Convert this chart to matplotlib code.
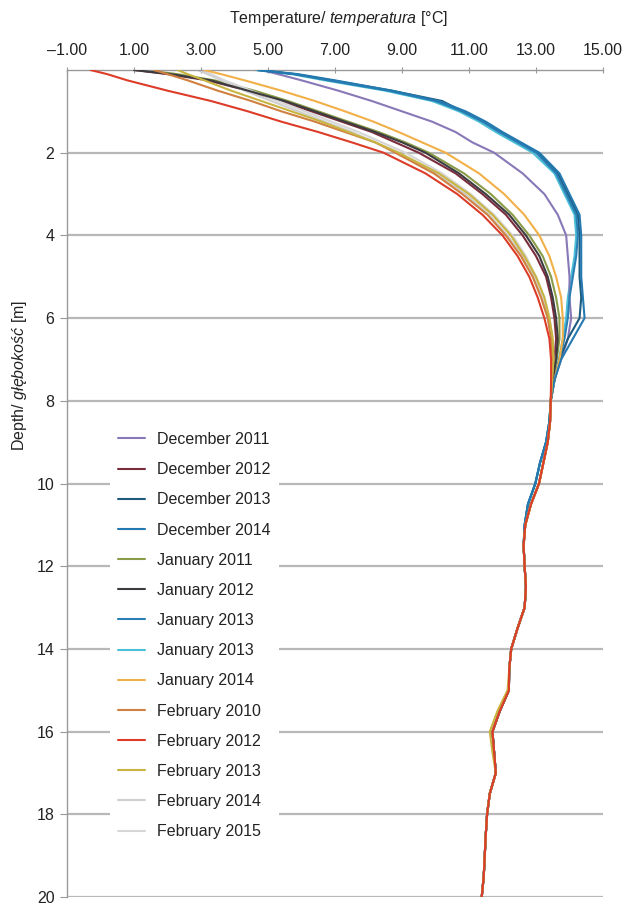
import numpy as np
import matplotlib
matplotlib.use('Agg')
import matplotlib.pyplot as plt

plt.rcParams['font.family'] = ['Liberation Sans', 'DejaVu Sans']
plt.rcParams['mathtext.fontset'] = 'custom'
plt.rcParams['mathtext.rm'] = 'Liberation Sans'
plt.rcParams['mathtext.it'] = 'Liberation Sans:italic'

# depth levels of the profiles [m]
depth_top = [0.0, 0.1, 0.25, 0.5, 0.75, 1.0, 1.25, 1.5, 1.75, 2.0, 2.5, 3.0,
             3.5, 4.0, 4.5, 5.0, 5.5, 6.0, 6.5, 7.0, 7.5]
depth_deep = [8.0, 8.5, 9.0, 9.5, 10.0, 10.5, 11.0, 11.5, 12.0, 12.5, 13.0,
              13.5, 14.0, 14.5, 15.0, 15.5, 16.0, 16.5, 17.0, 17.5, 18.0,
              18.5, 19.0, 19.5, 20.0]

# below ~8 m all profiles practically coincide
t_deep = [13.44, 13.42, 13.35, 13.22, 13.09, 12.85, 12.68, 12.63, 12.66,
          12.70, 12.66, 12.45, 12.26, 12.20, 12.19, 11.92, 11.70, 11.75,
          11.80, 11.62, 11.54, 11.50, 11.47, 11.44, 11.38]
t_deep_blue = [13.44, 13.40, 13.30, 13.12, 12.98, 12.76, 12.66, 12.63, 12.66,
               12.70, 12.66, 12.45, 12.26, 12.20, 12.19, 11.92, 11.70, 11.75,
               11.80, 11.62, 11.54, 11.50, 11.47, 11.44, 11.38]
t_deep_olive = [13.44, 13.42, 13.35, 13.22, 13.09, 12.85, 12.68, 12.63, 12.66,
                12.70, 12.66, 12.45, 12.26, 12.20, 12.15, 11.85, 11.62, 11.70,
                11.80, 11.62, 11.54, 11.50, 11.47, 11.44, 11.38]

# upper part of each profile [°C]
dec_2011 = [4.8, 5.3, 6.0, 7.1, 8.1, 9.0, 9.9, 10.6, 11.1, 11.75, 12.6, 13.25,
            13.65, 13.9, 13.95, 14.0, 14.0, 14.05, 13.95, 13.75, 13.55]
dec_2012 = [1.0, 2.0, 3.2, 4.4, 5.4, 6.3, 7.2, 8.1, 8.8, 9.5, 10.6, 11.4,
            12.1, 12.6, 13.0, 13.3, 13.45, 13.55, 13.6, 13.55, 13.48]
dec_2013 = [4.7, 5.8, 6.9, 8.7, 10.2, 10.8, 11.45, 11.95, 12.5, 13.05, 13.65,
            13.95, 14.25, 14.3, 14.3, 14.3, 14.35, 14.3, 13.95, 13.7, 13.55]
dec_2014 = [4.7, 5.9, 7.0, 8.7, 10.1, 10.9, 11.5, 12.0, 12.55, 13.1, 13.7,
            14.0, 14.3, 14.35, 14.35, 14.35, 14.4, 14.45, 14.1, 13.75, 13.55]
jan_2011 = [1.3, 2.3, 3.4, 4.6, 5.6, 6.5, 7.4, 8.3, 9.1, 9.8, 10.85, 11.65,
            12.3, 12.8, 13.2, 13.45, 13.6, 13.7, 13.7, 13.62, 13.5]
jan_2012 = [1.0, 2.1, 3.3, 4.4, 5.5, 6.4, 7.3, 8.2, 9.0, 9.7, 10.7, 11.5,
            12.2, 12.7, 13.1, 13.35, 13.5, 13.6, 13.65, 13.6, 13.5]
jan_2013a = [4.7, 5.8, 6.8, 8.6, 10.0, 10.8, 11.4, 11.9, 12.45, 13.0, 13.6,
             13.9, 14.2, 14.25, 14.2, 14.1, 14.0, 13.95, 13.85, 13.7, 13.55]
jan_2013b = [4.6, 5.7, 6.7, 8.5, 9.9, 10.7, 11.3, 11.8, 12.35, 12.9, 13.55,
             13.85, 14.15, 14.2, 14.15, 14.05, 13.95, 13.9, 13.8, 13.68, 13.55]
jan_2014 = [3.1, 3.6, 4.3, 5.4, 6.4, 7.3, 8.15, 8.9, 9.6, 10.3, 11.3, 12.05,
            12.65, 13.1, 13.4, 13.6, 13.75, 13.8, 13.8, 13.7, 13.55]
feb_2010 = [1.6, 2.0, 2.6, 3.5, 4.5, 5.4, 6.4, 7.3, 8.2, 8.8, 9.95, 10.8,
            11.55, 12.1, 12.55, 12.9, 13.15, 13.35, 13.45, 13.5, 13.48]
feb_2012 = [-0.3, 0.2, 0.8, 2.0, 3.3, 4.4, 5.4, 6.5, 7.5, 8.45, 9.7, 10.65,
            11.4, 12.0, 12.45, 12.8, 13.05, 13.25, 13.4, 13.45, 13.45]
feb_2013 = [2.3, 2.6, 3.1, 3.9, 4.8, 5.7, 6.6, 7.4, 8.2, 8.9, 10.1, 11.0,
            11.7, 12.25, 12.65, 13.0, 13.25, 13.4, 13.5, 13.52, 13.48]
feb_2014 = [2.9, 3.2, 3.6, 4.3, 5.1, 5.9, 6.7, 7.5, 8.2, 8.9, 10.0, 10.9,
            11.6, 12.15, 12.6, 12.95, 13.2, 13.38, 13.48, 13.5, 13.48]
feb_2015 = [3.0, 3.3, 3.7, 4.5, 5.3, 6.1, 6.9, 7.7, 8.4, 9.1, 10.2, 11.05,
            11.75, 12.3, 12.7, 13.0, 13.25, 13.4, 13.5, 13.52, 13.48]

labels = ['December 2011', 'December 2012', 'December 2013', 'December 2014',
          'January 2011', 'January 2012', 'January 2013', 'January 2013',
          'January 2014', 'February 2010', 'February 2012', 'February 2013',
          'February 2014', 'February 2015']
profiles = [dec_2011, dec_2012, dec_2013, dec_2014, jan_2011, jan_2012,
            jan_2013a, jan_2013b, jan_2014, feb_2010, feb_2012, feb_2013,
            feb_2014, feb_2015]
deeps = [t_deep, t_deep, t_deep_blue, t_deep_blue, t_deep, t_deep,
         t_deep_blue, t_deep_blue, t_deep, t_deep, t_deep, t_deep_olive,
         t_deep, t_deep]
colors = ['#8878b8', '#7a2c3c', '#1d5c7e', '#2479b0', '#8a9c48', '#3c3c40',
          '#2a7fb4', '#4cc0d8', '#f2b048', '#d08040', '#dc3c28', '#c8b440',
          '#cfcfcf', '#d6d6d6']
zorders = [3, 2, 3, 4, 2, 3, 3, 2, 3, 4, 6, 5, 2, 2]

fig = plt.figure(figsize=(6.3, 9.06), dpi=100)
ax = fig.add_axes([67 / 630, 9 / 906, 536 / 630, 827 / 906])

depth = depth_top + depth_deep
for lab, top, deep, col, z in zip(labels, profiles, deeps, colors, zorders):
    ax.plot(top + deep, depth, color=col, lw=1.5, label=lab, zorder=z,
            solid_capstyle='round', solid_joinstyle='round')

ax.set_xlim(-1, 15)
ax.set_ylim(20, 0)
ax.xaxis.tick_top()
ax.set_xticks(np.arange(-1, 16, 2))
ax.set_xticklabels(['\u20131.00', '1.00', '3.00', '5.00', '7.00', '9.00',
                    '11.00', '13.00', '15.00'])
ax.set_yticks(np.arange(2, 21, 2))
ax.set_yticklabels([str(v) for v in range(2, 21, 2)])
ax.tick_params(axis='x', direction='inout', length=5, width=0.8,
               color='#999999', labelsize=11.5, pad=6, labelcolor='#222222')
ax.tick_params(axis='y', direction='out', length=5, width=0.8,
               color='#999999', labelsize=11.5, pad=4, labelcolor='#222222')
ax.grid(axis='y', color='#b8b8b8', lw=1.6, zorder=0)
ax.set_axisbelow(True)
for side in ['right', 'bottom']:
    ax.spines[side].set_visible(False)
for side in ['top', 'left']:
    ax.spines[side].set_color('#9a9a9a')
    ax.spines[side].set_linewidth(1.0)

fig.text(338 / 630, 1 - 19 / 906, 'Temperature/ $\\mathit{temperatura}$ [°C]',
         ha='center', va='center', fontsize=11.5, color='#222222')
fig.text(20 / 630, 1 - 375 / 906, 'Depth/ $\\mathit{głębokość}$ [m]',
         ha='center', va='center', rotation=90, fontsize=11.5,
         color='#222222')

leg = ax.legend(loc='upper left', bbox_to_anchor=(110 / 630, 1 - 424 / 906),
                bbox_transform=fig.transFigure, fontsize=11.5,
                handlelength=1.7, handletextpad=0.75, labelspacing=0.95,
                borderpad=0.5, borderaxespad=0, fancybox=False)
leg.get_frame().set_facecolor('white')
leg.get_frame().set_edgecolor('none')
leg.get_frame().set_alpha(1.0)
for t in leg.get_texts():
    t.set_color('#222222')

fig.savefig('out.png', dpi=100)
